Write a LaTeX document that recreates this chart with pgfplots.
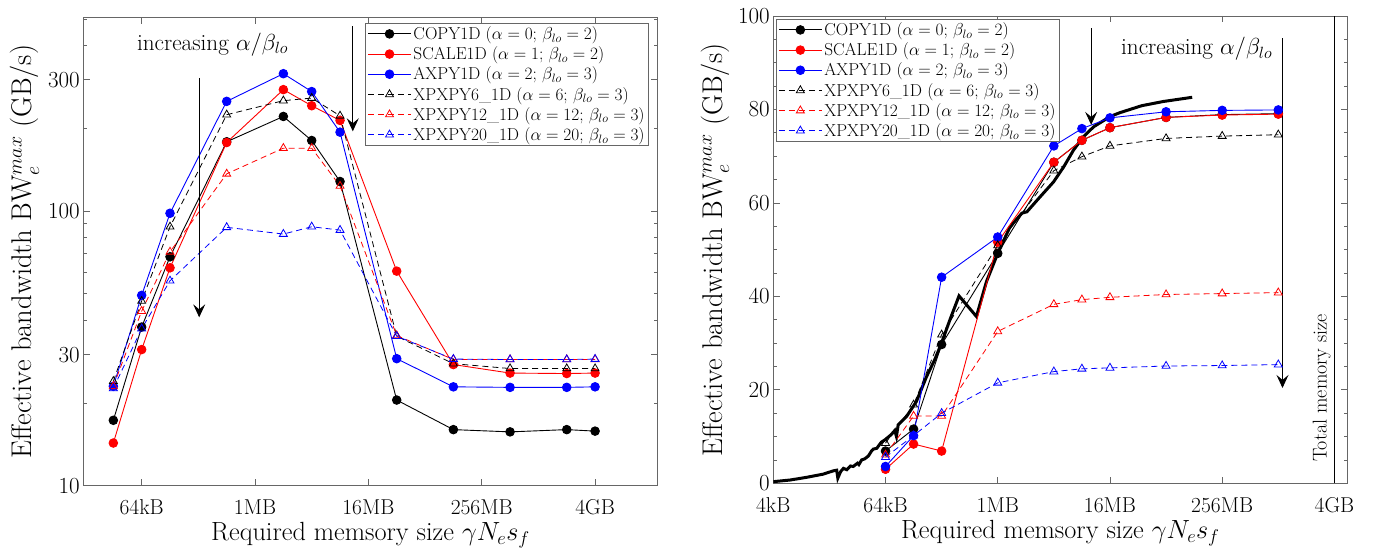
\RequirePackage{fix-cm}
\documentclass[border=0pt]{standalone}
\usepackage{pgfplots}
\pgfplotsset{compat=1.18}
\usetikzlibrary{arrows.meta}

\newcommand\xticksize{\fontsize{21.5}{25}\selectfont}
\newcommand\yticksize{\fontsize{23}{27}\selectfont}
\newcommand\xlabsize{\fontsize{26.3}{31}\selectfont}
\newcommand\ylabsize{\fontsize{28.5}{34}\selectfont}
\newcommand\legsize{\fontsize{17.3}{20}\selectfont}
\newcommand\annsize{\fontsize{23.2}{27}\selectfont}

\pgfplotsset{
  common/.style={
    scale only axis,
    axis line style={black!60, line width=0.8pt},
    tick style={black!60, line width=0.8pt},
    major tick length=6.5pt, minor tick length=3.5pt,
    xticklabel style={font=\xticksize, black, anchor=base, yshift=-29.3pt},
    yticklabel style={font=\yticksize, black},
    xlabel style={font=\xlabsize, at={([yshift=-55pt]axis description cs:0.5,0)}, anchor=base},
    ylabel style={font=\ylabsize, at={([xshift=-51.3pt]axis description cs:0,0.5)}, anchor=base},
    legend style={font=\legsize, draw=black!60, line width=0.8pt, fill=white,
      inner xsep=2pt, inner ysep=1pt, row sep=1.7pt, cells={anchor=west}},
    legend image code/.code={
      \draw[mark repeat=2,mark phase=2] plot coordinates {(0pt,0pt) (21.5pt,0pt) (43pt,0pt)};
    },
  },
  sA/.style={black, line width=0.9pt, mark=*, mark size=4.3pt, mark options={solid, fill=black}},
  sB/.style={red, line width=0.9pt, mark=*, mark size=4.3pt, mark options={solid, fill=red}},
  sC/.style={blue, line width=0.9pt, mark=*, mark size=4.3pt, mark options={solid, fill=blue}},
  sD/.style={black, line width=0.8pt, dash pattern=on 6pt off 4pt, mark=triangle, mark size=4.6pt, mark options={solid, line width=0.8pt}},
  sE/.style={red, line width=0.8pt, dash pattern=on 6pt off 4pt, mark=triangle, mark size=4.6pt, mark options={solid, line width=0.8pt}},
  sF/.style={blue, line width=0.8pt, dash pattern=on 6pt off 4pt, mark=triangle, mark size=4.6pt, mark options={solid, line width=0.8pt}},
}

\begin{document}
\begin{tikzpicture}
\useasboundingbox (0,0) rectangle (1374pt,548pt);

% ---------------- left panel ----------------
\begin{axis}[common,
  at={(83.3pt,62.3pt)}, anchor=south west,
  width=574.4pt, height=468.4pt,
  xmin=13.94, xmax=34.21,
  ymode=log, ymin=10, ymax=507,
  xtick={16,20,24,28,32},
  xticklabels={64kB,1MB,16MB,256MB,4GB},
  ytick={10,30,100,300},
  yticklabels={10,30,100,300},
  minor ytick={20,40,50,60,70,80,90,200,400,500},
  xlabel={Required memsory size $\gamma N_e s_f$},
  ylabel={Effective bandwidth BW$_e^{max}$ (GB/s)},
  legend style={at={(axis description cs:1,1)}, anchor=north east, xshift=-8.7pt, yshift=-6pt},
]
\addplot[sA] coordinates {(15,17.3)(16,37.8)(17,68.1)(19,178.6)(21,220.8)(22,180.5)(23,128)(25,20.5)(27,16.0)(29,15.7)(31,16.0)(32,15.8)};
\addlegendentry{COPY1D ($\alpha=0$; $\beta_{lo}=2$)}
\addplot[sB] coordinates {(15,14.3)(16,31.3)(17,62.1)(19,177.5)(21,276.5)(22,241.6)(23,213.6)(25,60.4)(27,27.6)(29,25.7)(31,25.6)(32,25.7)};
\addlegendentry{SCALE1D ($\alpha=1$; $\beta_{lo}=2$)}
\addplot[sC] coordinates {(15,23.0)(16,49.3)(17,98.1)(19,250.6)(21,316)(22,272)(23,193.6)(25,29.0)(27,22.9)(29,22.8)(31,22.8)(32,22.9)};
\addlegendentry{AXPY1D ($\alpha=2$; $\beta_{lo}=3$)}
\addplot[sD] coordinates {(15,24.0)(16,47)(17,87.6)(19,224)(21,252)(22,257.6)(23,222)(25,35.0)(27,27.8)(29,26.7)(31,26.7)(32,26.7)};
\addlegendentry{XPXPY6\_1D ($\alpha=6$; $\beta_{lo}=3$)}
\addplot[sE] coordinates {(15,23.0)(16,43.2)(17,71.0)(19,136.5)(21,169.3)(22,169.3)(23,123.3)(25,35.2)(27,28.8)(29,28.8)(31,28.8)(32,28.8)};
\addlegendentry{XPXPY12\_1D ($\alpha=12$; $\beta_{lo}=3$)}
\addplot[sF] coordinates {(15,22.6)(16,37.3)(17,55.7)(19,87.2)(21,82.4)(22,87.6)(23,85.2)(25,35)(27,28.9)(29,28.8)(31,28.8)(32,28.9)};
\addlegendentry{XPXPY20\_1D ($\alpha=20$; $\beta_{lo}=3$)}
\node[font=\annsize] at (axis cs:18.5,404) {increasing $\alpha/\beta_{lo}$};
\draw[line width=0.9pt, -{Stealth[length=13pt,width=12pt,inset=5pt]}] (axis cs:18.03,305) -- (axis cs:18.03,41);
\draw[line width=0.9pt, -{Stealth[length=13pt,width=12pt,inset=5pt]}] (axis cs:23.45,471) -- (axis cs:23.45,195);
\end{axis}

% ---------------- right panel ----------------
\begin{axis}[common,
  at={(773.3pt,64.7pt)}, anchor=south west,
  width=574pt, height=467.3pt,
  xmin=12, xmax=32.46,
  ymin=0, ymax=100,
  xtick={12,16,20,24,28,32},
  xticklabels={4kB,64kB,1MB,16MB,256MB,4GB},
  ytick={0,20,40,60,80,100},
  minor y tick num=3,
  xlabel={Required memsory size $\gamma N_e s_f$},
  ylabel={Effective bandwidth BW$_e^{max}$ (GB/s)},
  legend style={at={(axis description cs:0,1)}, anchor=north west, xshift=2.7pt, yshift=-3.3pt},
]
\addplot[black, line width=3pt, forget plot] coordinates {
(12,0.35)(12.6,0.7)(13.19,1.28)(13.78,1.96)(14.14,2.67)(14.26,2.8)(14.3,1.1)(14.4,2.5)(14.5,3.2)(14.62,2.9)(14.75,3.7)(14.85,3.6)(15.0,4.3)(15.05,4.0)(15.15,5.0)(15.25,5.2)(15.39,5.85)(15.5,6.9)(15.56,7.3)(15.69,7.5)(15.85,8.8)(15.98,9.3)(16.1,9.9)(16.2,10.4)(16.33,11.3)(16.39,10.0)(16.45,12.5)(16.75,14.3)(17.1,17.5)(17.46,22.8)(17.75,26.4)(17.99,29.9)(18.29,34.9)(18.62,40.1)(19.24,35.7)(19.6,43.2)(20.0,49.2)(20.44,54.9)(20.86,57.8)(21.04,58.1)(21.51,61.3)(21.99,64.5)(22.35,67.7)(22.7,71.3)(23.06,74.2)(23.42,76.3)(24.01,78.5)(24.35,79.3)(25.13,80.8)(25.9,81.7)(26.93,82.6)};
\addplot[sA] coordinates {(16,6.9)(17,11.6)(18,29.7)(20,49.2)(22,68.7)(23,73.4)(24,76.1)(26,78.3)(28,78.9)(30,79.1)};
\addlegendentry{COPY1D ($\alpha=0$; $\beta_{lo}=2$)}
\addplot[sB] coordinates {(16,3.0)(17,8.4)(18,6.9)(20,51.6)(22,68.7)(23,73.4)(24,76.1)(26,78.3)(28,78.8)(30,79.0)};
\addlegendentry{SCALE1D ($\alpha=1$; $\beta_{lo}=2$)}
\addplot[sC] coordinates {(16,3.6)(17,10.2)(18,44.1)(20,52.7)(22,72.2)(23,75.9)(24,78.2)(26,79.5)(28,79.8)(30,79.9)};
\addlegendentry{AXPY1D ($\alpha=2$; $\beta_{lo}=3$)}
\addplot[sD] coordinates {(16,8.6)(17,16.8)(18,31.8)(20,50.9)(22,66.9)(23,69.9)(24,72.2)(26,73.8)(28,74.3)(30,74.6)};
\addlegendentry{XPXPY6\_1D ($\alpha=6$; $\beta_{lo}=3$)}
\addplot[sE] coordinates {(16,6.1)(17,14.4)(18,14.4)(20,32.5)(22,38.3)(23,39.3)(24,39.8)(26,40.4)(28,40.6)(30,40.8)};
\addlegendentry{XPXPY12\_1D ($\alpha=12$; $\beta_{lo}=3$)}
\addplot[sF] coordinates {(16,5.6)(17,10.2)(18,15.0)(20,21.5)(22,23.9)(23,24.5)(24,24.7)(26,25.1)(28,25.2)(30,25.4)};
\addlegendentry{XPXPY20\_1D ($\alpha=20$; $\beta_{lo}=3$)}
\draw[black, line width=0.9pt] (axis cs:32,0) -- (axis cs:32,100);
\node[rotate=90, font=\fontsize{20}{24}\selectfont] at (axis cs:31.55,20.4) {Total memory size};
\node[font=\annsize] at (axis cs:27.09,92.9) {increasing $\alpha/\beta_{lo}$};
\draw[line width=0.9pt, -{Stealth[length=13pt,width=12pt,inset=5pt]}] (axis cs:23.33,97.4) -- (axis cs:23.33,76.7);
\draw[line width=0.9pt, -{Stealth[length=13pt,width=12pt,inset=5pt]}] (axis cs:30.15,95.2) -- (axis cs:30.15,20.4);
\end{axis}
\end{tikzpicture}
\end{document}
